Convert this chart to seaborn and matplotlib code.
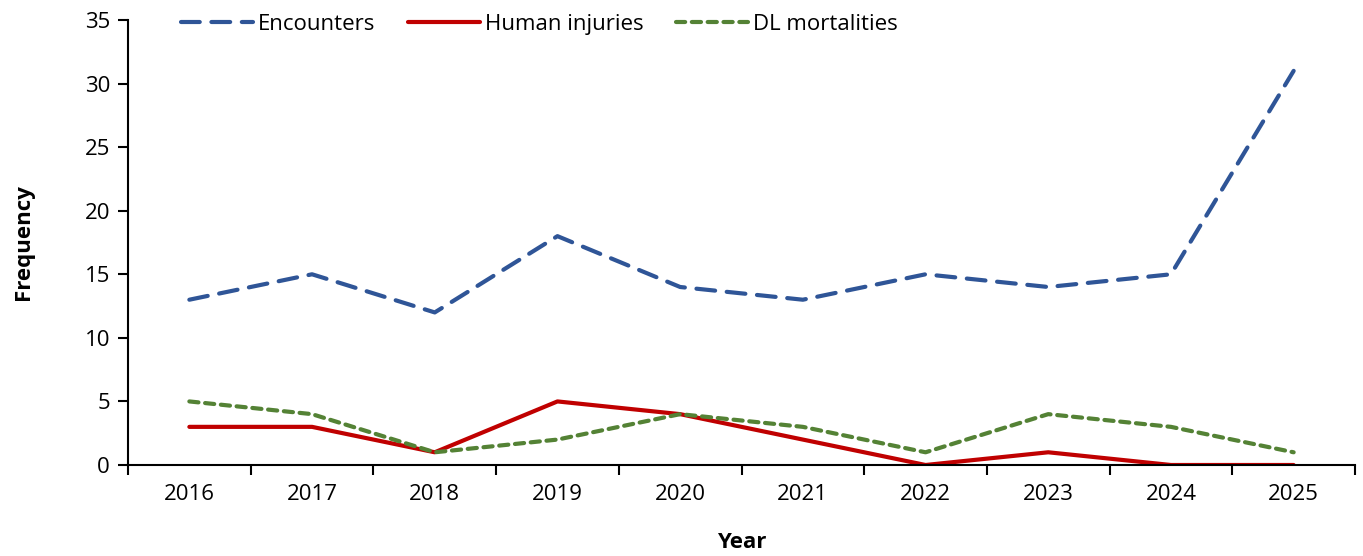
import matplotlib
matplotlib.use("Agg")
import matplotlib.pyplot as plt
import numpy as np
import pandas as pd
import seaborn as sns

years = ["2016", "2017", "2018", "2019", "2020", "2021", "2022", "2023", "2024", "2025"]
encounters = [13, 15, 12, 18, 14, 13, 15, 14, 15, 31]
human_injuries = [3, 3, 1, 5, 4, 2, 0, 1, 0, 0]
dl_mortalities = [5, 4, 1, 2, 4, 3, 1, 4, 3, 1]

sns.set_style("white")
plt.rcParams['font.family'] = ['Open Sans', 'DejaVu Sans']
plt.rcParams['text.color'] = 'black'
plt.rcParams['axes.labelcolor'] = 'black'
plt.rcParams['xtick.color'] = 'black'
plt.rcParams['ytick.color'] = 'black'

fig = plt.figure(figsize=(13.63, 5.56), dpi=100)
ax = fig.add_axes([128 / 1363, 91 / 556, 1227 / 1363, 445 / 556])

pos = np.arange(len(years))
df = pd.DataFrame({"pos": pos, "Encounters": encounters,
                   "Human injuries": human_injuries, "DL mortalities": dl_mortalities})

sns.lineplot(data=df, x="pos", y="Encounters", ax=ax, color="#2F5597", lw=3,
             label="Encounters")
sns.lineplot(data=df, x="pos", y="Human injuries", ax=ax, color="#C00000", lw=3,
             label="Human injuries")
sns.lineplot(data=df, x="pos", y="DL mortalities", ax=ax, color="#548235", lw=3,
             label="DL mortalities")

lines = ax.get_lines()
lines[0].set_dashes((4.5, 2.8))
lines[0].set_dash_capstyle("round")
lines[2].set_dashes((2.2, 1.6))
lines[2].set_dash_capstyle("round")

ax.set_xlim(-0.5, len(years) - 0.5)
ax.set_ylim(0, 35)
ax.set_yticks(range(0, 36, 5))
ax.set_xticks(pos)
ax.set_xticklabels(years)
ax.set_xticks(np.arange(-0.5, len(years), 1), minor=True)
ax.tick_params(axis='x', which='major', bottom=True, length=0, pad=14, labelsize=16)
ax.tick_params(axis='x', which='minor', bottom=True, length=7, width=1.5, direction='out')
ax.tick_params(axis='y', left=True, length=7, width=1.5, direction='out', labelsize=16, pad=6)

for s in ["top", "right"]:
    ax.spines[s].set_visible(False)
for s in ["left", "bottom"]:
    ax.spines[s].set_color("black")
    ax.spines[s].set_linewidth(1.5)

ax.set_xlabel("Year", fontsize=16, fontweight="bold", labelpad=19)
ax.set_ylabel("Frequency", fontsize=16, fontweight="bold", labelpad=36)

leg = ax.legend(loc="upper left", bbox_to_anchor=(170 / 1363, 0.995), bbox_transform=fig.transFigure,
                ncol=3, frameon=False, fontsize=16, handlelength=3.25, columnspacing=1.45,
                handletextpad=0.22, borderaxespad=0.1)

fig.savefig("out.png", dpi=100)
